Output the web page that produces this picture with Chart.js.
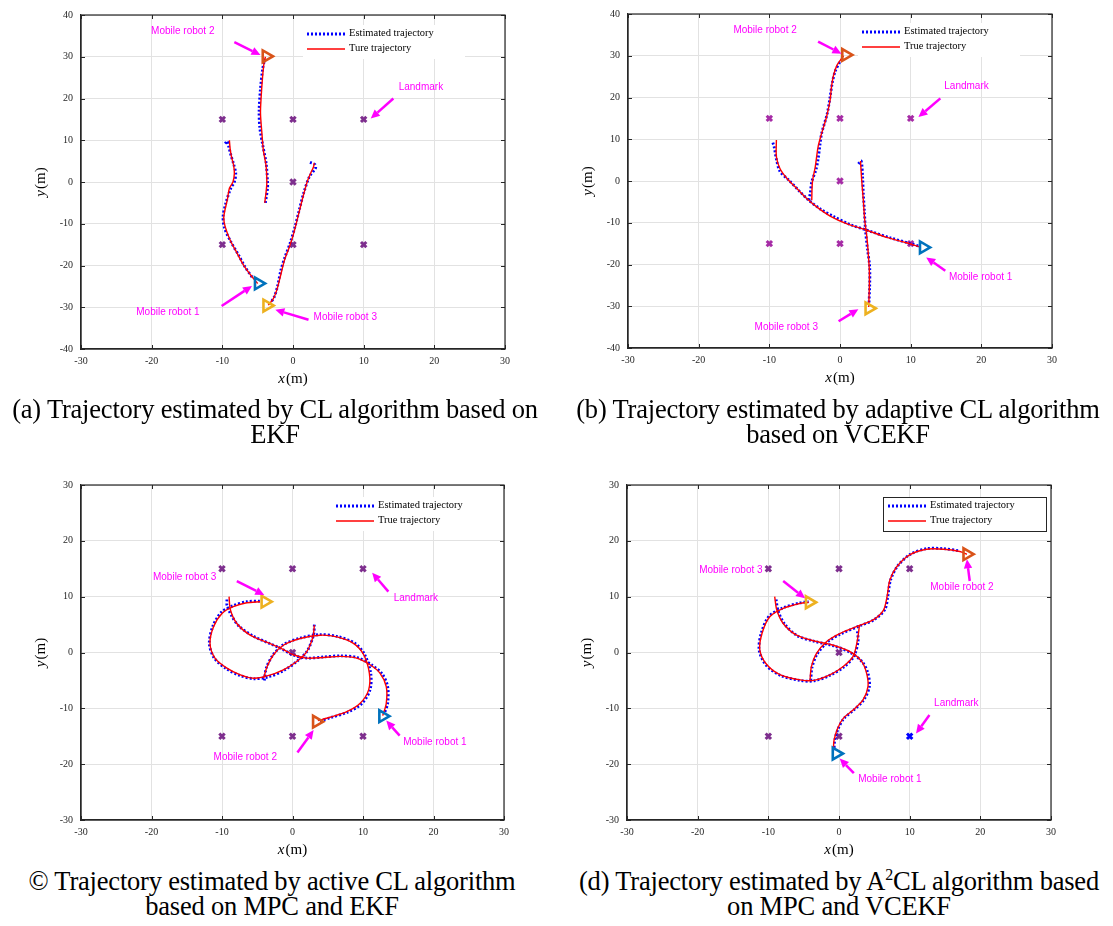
<!DOCTYPE html>
<html>
<head>
<meta charset="utf-8">
<script src="https://cdn.jsdelivr.net/npm/chart.js@4.4.1/dist/chart.umd.min.js"></script>
<style>
  html, body { margin: 0; padding: 0; background: #fff; }
  body { width: 1113px; height: 926px; position: relative; overflow: hidden; }
  .panel { position: absolute; }
  .cap {
    position: absolute; width: 580px; text-align: center; color: #000;
    font-family: "Liberation Serif", "Times New Roman", serif; font-size: 26.5px; line-height: 25px;
    letter-spacing: -0.2px;
  }
  .cap sup { font-size: 16px; line-height: 0; vertical-align: 10px; }
</style>
</head>
<body>
<div class="panel" style="left:0;top:0"><canvas id="pa" width="556" height="395"></canvas></div>
<div class="panel" style="left:556px;top:0"><canvas id="pb" width="557" height="395"></canvas></div>
<div class="panel" style="left:0;top:470px"><canvas id="pc" width="556" height="390"></canvas></div>
<div class="panel" style="left:556px;top:470px"><canvas id="pd" width="557" height="390"></canvas></div>

<div class="cap" style="left:-15px;top:397px">(a) Trajectory estimated by CL algorithm based on<br>EKF</div>
<div class="cap" style="left:548px;top:397px">(b) Trajectory estimated by adaptive CL algorithm<br>based on VCEKF</div>
<div class="cap" style="left:-18px;top:869px">© Trajectory estimated by active CL algorithm<br>based on MPC and EKF</div>
<div class="cap" style="left:549px;top:869px">(d) Trajectory estimated by A<sup>2</sup>CL algorithm based<br>on MPC and VCEKF</div>

<script>
// landmarks (same layout in every panel)
const landmarkX = [-10, 0, 10, 0, -10, 0, 10];
const landmarkY = [15, 15, 15, 0, -15, -15, -15];

// ---- (a) CL + EKF ----
const aR1True = [[-9,10],[-8.9,8],[-8.7,6],[-8.4,4],[-8.3,2],[-8.5,0],[-9,-1.5],[-9.3,-4.3],[-9.6,-6.5],[-9.8,-8.5],[-9.6,-10.7],[-8.9,-13.9],[-7.9,-17.1],[-7,-19.9],[-5.8,-22.7],[-5,-24.3]];
const aR1Est = [[-9.6,9.2],[-9.3,9.8],[-9.1,8.5],[-8.8,6.5],[-8.4,4.3],[-8.1,2],[-8.3,0],[-8.8,-1.5],[-9.5,-5],[-9.9,-8.3],[-9.7,-11],[-8.8,-14.3],[-7.7,-17.5],[-6.8,-20.3],[-5.7,-23]];
const aR2True = [[-4,-5],[-3.8,-2.3],[-3.7,0],[-3.8,3.7],[-4.2,7.7],[-4.4,11.7],[-4.6,16.5],[-4.5,20.5],[-4.3,25.3],[-4.1,28.5],[-3.9,30]];
const aR2Est = [[-3.9,-5],[-3.6,-1.5],[-3.6,0],[-3.8,4.5],[-4.3,9],[-4.7,13],[-4.8,17],[-4.6,22.5],[-4.3,27],[-4,29.5]];
const aR3True = [[3,4.6],[2.9,3.6],[2.6,2.5],[2,0],[1.3,-4.3],[0.7,-8.3],[0.1,-12.3],[-0.5,-15.5],[-1.2,-18.7],[-1.8,-22.7],[-2.3,-25.9],[-2.8,-28],[-3.5,-29.5]];
const aR3Est = [[2.4,4.7],[3.1,4.2],[3.2,3.4],[2.3,1.2],[1.5,-2.7],[0.9,-6.6],[0.3,-10.6],[-0.4,-14.6],[-1.1,-17.8],[-1.7,-21],[-2.2,-25],[-2.7,-27.7],[-3.4,-29.3]];
const aEnds = [[-4.9,-24.3],[-3.8,30.1],[-3.7,-29.6]];
const aNoteText = ["Mobile robot 2", "Landmark", "Mobile robot 1", "Mobile robot 3"];
const aNoteAt = [[-15.6,36],[18.1,22.6],[-17.7,-31.1],[7.4,-32.3]];
const aArrowFrom = [[-8.3,33.5],[14.2,20],[-10.1,-29.7],[2.2,-33]];
const aArrowTo = [[-4.6,30.4],[11,15.2],[-5.8,-24.9],[-2.5,-30.6]];

// ---- (b) adaptive CL + VCEKF ----
const bR1True = [[-9,9.8],[-9,5.8],[-8.5,3],[-7.5,0.6],[-6.1,-1.8],[-4.7,-4.2],[-3.3,-6.2],[-1.4,-8.4],[0.9,-10.2],[3.8,-11.8],[6.6,-13.5],[9.4,-14.8],[11.3,-15.8]];
const bR1Est = [[-9.5,9.2],[-9.3,8],[-9,5.2],[-8.5,2.3],[-7.3,0.3],[-5.7,-2.5],[-4.5,-4.5],[-2.8,-6.7],[-0.9,-8.5],[1.4,-10.4],[4.2,-12],[7.1,-13.6],[10,-15],[11.2,-15.6]];
const bR2True = [[-4,-4.6],[-3.9,-0.2],[-3.5,3.4],[-3.1,8.2],[-2.6,11.4],[-1.9,15.4],[-1.4,19.4],[-1.2,22.6],[-0.9,25.4],[-0.4,27.8],[0.5,30]];
const bR2Est = [[-4.4,-4.6],[-4.2,-2.8],[-4,-0.2],[-3.4,2.7],[-3.1,5.2],[-2.8,9.1],[-2.6,11.4],[-1.8,16.2],[-1.4,20.2],[-1.1,23.4],[-0.7,26.2],[0,28.6]];
const bR3True = [[2.9,4.8],[3.07,0.2],[3.3,-4.6],[3.5,-9.4],[3.8,-13.4],[4,-17.4],[4.15,-21.4],[4.15,-25.4],[4.06,-30.2]];
const bR3Est = [[2.6,4.1],[3,4.8],[3.2,1],[3.3,-3],[3.45,-7],[3.6,-11.7],[3.9,-16.5],[4.2,-20.5],[4.2,-25.3],[4.1,-29.3]];
const bEnds = [[11.8,-15.9],[0.8,30.2],[4.1,-30.5]];
const bNoteText = ["Mobile robot 2", "Landmark", "Mobile robot 1", "Mobile robot 3"];
const bNoteAt = [[-10.6,36.1],[17.9,22.6],[19.9,-23],[-7.6,-35]];
const bArrowFrom = [[-3.1,33.4],[14.2,19.8],[14.9,-21.5],[-0.2,-33.6]];
const bArrowTo = [[0.2,30.5],[11.1,15.3],[12.2,-18.3],[2.6,-30.7]];

// ---- (c) active CL, MPC + EKF ----
const cR1True = [[-9,10],[-8.8,7.6],[-7.9,5.2],[-6,3.1],[-3.6,1.8],[-1.7,0.8],[0.1,-0.4],[2,-1],[4.4,-0.9],[6.8,-0.7],[9.1,-1],[11,-2.2],[12.4,-3.7],[13.3,-6.1],[13.3,-9.1],[12.8,-11.3]];
const cR1Est = [[-9.3,9.5],[-9.3,8.5],[-8.6,6.5],[-7.5,4.6],[-5.5,2.9],[-3.4,1.7],[-1.6,0.7],[0.2,-0.5],[2.1,-1],[4.4,-0.8],[6.8,-0.6],[9.2,-0.9],[11.2,-2.2],[12.7,-3.8],[13.5,-6.1],[13.5,-9.1],[13,-11]];
const cR2True = [[-4.1,-4.6],[-3.6,-2.5],[-2.7,-0.4],[-1.3,1.3],[1.1,2.5],[3.9,3.1],[6.3,2.8],[8.7,1.6],[10.1,-0.4],[10.9,-3.7],[10.8,-6.7],[9.6,-9.1],[7.7,-10.6],[5.3,-11.6],[3.6,-12.2]];
const cR2Est = [[-4,-5],[-3.7,-2.7],[-2.8,-0.5],[-1.3,1.4],[1.1,2.6],[3.9,3.2],[6.3,2.9],[8.8,1.7],[10.2,-0.3],[11.1,-3.7],[11,-6.7],[9.8,-9.2],[7.8,-10.7],[5.3,-11.7],[3.8,-12.3]];
const cR3True = [[3.1,4.9],[2.9,2.8],[2,0.1],[0.6,-1.6],[-1.3,-3.1],[-3.6,-4.2],[-5.5,-4.6],[-7.4,-4],[-9.3,-2.8],[-11,-1],[-11.7,1.6],[-11.2,4.6],[-10,7],[-8.4,8.2],[-6.5,8.9],[-4.6,9.1]];
const cR3Est = [[3.1,5],[3,3.2],[2.1,0.3],[0.7,-1.5],[-1.2,-3.2],[-3.5,-4.4],[-5.5,-4.7],[-7.5,-4.1],[-9.4,-2.9],[-11.1,-1],[-11.8,1.6],[-11.3,4.7],[-10.1,7.2],[-8.4,8.4],[-6.5,9.1],[-4.6,9.2]];
const cEnds = [[12.8,-11.4],[3.4,-12.4],[-3.9,9.1]];
const cNoteText = ["Mobile robot 3", "Landmark", "Mobile robot 2", "Mobile robot 1"];
const cNoteAt = [[-15.3,13.4],[17.5,9.8],[-6.7,-18.8],[20.2,-16]];
const cArrowFrom = [[-7.9,12.8],[13.6,10.9],[0.7,-17.9],[15.2,-14.9]];
const cArrowTo = [[-4,10.3],[11.3,14.3],[3,-13.9],[13.3,-12.2]];

// ---- (d) A2CL, MPC + VCEKF ----
const dR1True = [[-9.1,10],[-8.8,7.6],[-7.9,5.2],[-6,3.1],[-3.6,2.1],[-0.8,1.3],[1.6,0.1],[3.2,-1.6],[3.9,-3.7],[4.1,-6.1],[3.4,-8.5],[2,-10.3],[0.6,-11.8],[-0.2,-13.6],[-0.7,-15.7],[-0.8,-17.5]];
const dR1Est = [[-8.9,9.5],[-8.6,7.4],[-7.7,5.1],[-5.9,3],[-3.5,2],[-0.8,1.2],[1.6,0],[3.3,-1.7],[4.1,-3.7],[4.3,-6.1],[3.5,-8.5],[2.1,-10.3],[0.7,-11.8],[-0.1,-13.6],[-0.6,-15.7],[-0.7,-17.5]];
const dR2True = [[-4.1,-4.9],[-3.9,-2.5],[-3.2,-0.2],[-1.7,2],[0.1,3.4],[3,4.9],[4.9,5.9],[6.3,7.6],[6.8,10],[7.2,13],[8.2,15.4],[10,17.5],[12.4,18.5],[14.8,18.5],[17.1,18.1],[18.1,17.6]];
const dR2Est = [[-4,-5],[-3.8,-2.6],[-3.1,-0.3],[-1.6,1.9],[0.2,3.3],[3,4.8],[5,5.9],[6.5,7.7],[6.9,10],[7.3,13],[8.3,15.5],[10.1,17.6],[12.4,18.6],[14.8,18.6],[17.1,18.2]];
const dR3True = [[2.9,4.9],[2.6,2.2],[2,-0.7],[0.6,-2.5],[-1.3,-4],[-3.6,-5],[-5.5,-4.9],[-8.3,-4],[-10.2,-2.2],[-11.2,0.4],[-10.9,3.4],[-9.8,6.4],[-7.9,7.9],[-5.5,8.8],[-4.3,9]];
const dR3Est = [[2.6,3.8],[2.7,2],[2.1,-0.7],[0.7,-2.6],[-1.3,-4.1],[-3.6,-5.1],[-5.5,-5],[-8.3,-4.1],[-10.3,-2.3],[-11.3,0.4],[-11,3.5],[-9.9,6.5],[-7.9,8],[-5.5,8.9],[-4.3,9.1]];
const dEnds = [[-0.4,-18.1],[18.1,17.6],[-4.2,9]];
const dNoteText = ["Mobile robot 3", "Mobile robot 2", "Landmark", "Mobile robot 1"];
const dNoteAt = [[-15.3,14.8],[17.4,11.6],[16.6,-9.1],[7.2,-22.7]];
const dArrowFrom = [[-7.9,12.8],[18.5,12.8],[12.8,-11.2],[2.1,-21.6]];
const dArrowTo = [[-4.8,9.7],[18.1,16.7],[10.9,-14.5],[0.1,-19]];

const robotColors = ['#0072BD', '#D95319', '#EDB120'];
const MAGENTA = '#ff00ff';
const INK = '#262626';

Chart.defaults.font.family = '"Liberation Serif", "Times New Roman", serif';
Chart.defaults.font.size = 10;
Chart.defaults.color = INK;

const toPts = arr => arr.map(p => ({ x: p[0], y: p[1] }));

function arrow(ctx, x0, y0, x1, y1) {
  const ang = Math.atan2(y1 - y0, x1 - x0);
  const head = 9, half = 4.2;
  const bx = x1 - head * Math.cos(ang), by = y1 - head * Math.sin(ang);
  ctx.beginPath();
  ctx.moveTo(x0, y0);
  ctx.lineTo(bx, by);
  ctx.stroke();
  ctx.beginPath();
  ctx.moveTo(x1, y1);
  ctx.lineTo(bx + half * Math.sin(ang), by - half * Math.cos(ang));
  ctx.lineTo(bx - half * Math.sin(ang), by + half * Math.cos(ang));
  ctx.closePath();
  ctx.fill();
}

function mathLabel(ctx, sym, cx, cy) {
  const f1 = 'italic 15px "Liberation Serif", serif';
  const f2 = '15px "Liberation Serif", serif';
  ctx.font = f1; const w1 = ctx.measureText(sym).width;
  ctx.font = f2; const w2 = ctx.measureText('(m)').width;
  const x0 = cx - (w1 + w2 + 1) / 2;
  ctx.textBaseline = 'middle'; ctx.textAlign = 'left';
  ctx.font = f1; ctx.fillText(sym, x0, cy);
  ctx.font = f2; ctx.fillText('(m)', x0 + w1 + 1, cy);
}

const figurePlugin = {
  id: 'figure',
  afterDatasetsDraw(chart, args, o) {
    const { ctx, chartArea: a, scales: { x, y } } = chart;
    ctx.save();
    // annotations
    ctx.strokeStyle = MAGENTA; ctx.fillStyle = MAGENTA; ctx.lineWidth = 2.5; ctx.lineCap = 'butt';
    o.arrowFrom.forEach((p, i) => {
      const q = o.arrowTo[i];
      arrow(ctx, x.getPixelForValue(p[0]), y.getPixelForValue(p[1]), x.getPixelForValue(q[0]), y.getPixelForValue(q[1]));
    });
    ctx.font = '10px "Liberation Sans", Arial, sans-serif';
    ctx.textAlign = 'center'; ctx.textBaseline = 'middle';
    o.noteText.forEach((t, i) => {
      ctx.fillText(t, x.getPixelForValue(o.noteAt[i][0]), y.getPixelForValue(o.noteAt[i][1]));
    });
    // legend
    const sx = a.left + o.legend.dx, r1 = a.top + o.legend.dy, r2 = r1 + 15;
    ctx.fillStyle = '#fff';
    ctx.fillRect(sx - 4, r1 - 9, 162, 34);
    if (o.legend.border) {
      ctx.strokeStyle = INK; ctx.lineWidth = 1;
      ctx.strokeRect(sx - 4.5, r1 - 8.5, 163, 34);
    }
    ctx.strokeStyle = '#0000ff'; ctx.lineWidth = 2.8; ctx.setLineDash([2, 2]);
    ctx.beginPath(); ctx.moveTo(sx, r1); ctx.lineTo(sx + 38, r1); ctx.stroke();
    ctx.setLineDash([]);
    ctx.strokeStyle = '#ff0000'; ctx.lineWidth = 1.4;
    ctx.beginPath(); ctx.moveTo(sx, r2); ctx.lineTo(sx + 38, r2); ctx.stroke();
    ctx.fillStyle = '#000'; ctx.textAlign = 'left';
    ctx.font = '10.5px "Liberation Serif", serif';
    ctx.fillText('Estimated trajectory', sx + 42, r1 - 1);
    ctx.fillText(o.trueLabel, sx + 42, r2 - 1);
    ctx.restore();
  },
  afterDraw(chart) {
    const { ctx, chartArea: a, scales: { x, y } } = chart;
    ctx.save();
    ctx.strokeStyle = INK; ctx.lineWidth = 1;
    ctx.beginPath();
    x.ticks.forEach(t => {
      const px = Math.round(x.getPixelForValue(t.value)) + 0.5;
      ctx.moveTo(px, a.bottom); ctx.lineTo(px, a.bottom - 4);
      ctx.moveTo(px, a.top); ctx.lineTo(px, a.top + 4);
    });
    y.ticks.forEach(t => {
      const py = Math.round(y.getPixelForValue(t.value)) + 0.5;
      ctx.moveTo(a.left, py); ctx.lineTo(a.left + 4, py);
      ctx.moveTo(a.right, py); ctx.lineTo(a.right - 4, py);
    });
    ctx.stroke();
    ctx.lineWidth = 1.2;
    ctx.strokeRect(a.left, a.top, a.right - a.left, a.bottom - a.top);
    ctx.fillStyle = '#000';
    mathLabel(ctx, 'x', (a.left + a.right) / 2, a.bottom + 30);
    ctx.translate(a.left - 40, (a.top + a.bottom) / 2);
    ctx.rotate(-Math.PI / 2);
    mathLabel(ctx, 'y', 0, 0);
    ctx.restore();
  }
};

function makePanel(id, p) {
  const datasets = [];
  p.truth.forEach((tr, i) => {
    datasets.push({ label: 'True ' + (i + 1), data: toPts(tr), showLine: true, borderColor: '#ff0000',
      borderWidth: 1.4, pointRadius: 0, tension: 0.3, order: 2 });
    datasets.push({ label: 'Estimated ' + (i + 1), data: toPts(p.est[i]), showLine: true, borderColor: '#0000ff',
      borderWidth: 2.8, borderDash: [2, 2], pointRadius: 0, tension: 0.3, order: 3 });
  });
  datasets.push({ label: 'Landmark', data: landmarkX.map((v, i) => ({ x: v, y: landmarkY[i] })),
    pointStyle: 'crossRot', pointRadius: 3.8, pointBorderWidth: 3, pointBorderColor: p.landmarkColors,
    showLine: false, order: 4 });
  datasets.push({ label: 'Robots', data: toPts(p.ends), pointStyle: 'triangle', rotation: 90,
    pointRadius: 6.8, pointBorderWidth: 2.6, pointBorderColor: robotColors,
    pointBackgroundColor: 'rgba(255,255,255,0)', showLine: false, order: 1 });

  const axis = (min, max) => ({
    type: 'linear', min, max,
    ticks: { stepSize: 10, color: INK, font: { size: 10 } },
    grid: { color: '#e2e2e2', drawTicks: false, lineWidth: 1 },
    border: { color: INK, width: 1.2 }
  });
  const xs = axis(-30, 30);
  xs.ticks.padding = 6;
  xs.afterFit = s => { s.height = p.xh; };
  const ys = axis(p.ymin, p.ymax);
  ys.ticks.padding = 8;
  ys.afterFit = s => { s.width = p.yw; };

  new Chart(document.getElementById(id), {
    type: 'scatter',
    data: { datasets },
    options: {
      responsive: false,
      animation: false,
      layout: { padding: { left: 0, top: p.top, right: p.right, bottom: 0 } },
      scales: { x: xs, y: ys },
      plugins: {
        legend: { display: false },
        tooltip: { enabled: false },
        figure: {
          noteText: p.noteText, noteAt: p.noteAt, arrowFrom: p.arrowFrom, arrowTo: p.arrowTo,
          legend: p.legend, trueLabel: p.trueLabel
        }
      }
    },
    plugins: [figurePlugin]
  });
}

const purple = '#7E2F8E';
makePanel('pa', {
  truth: [aR1True, aR2True, aR3True], est: [aR1Est, aR2Est, aR3Est], ends: aEnds,
  noteText: aNoteText, noteAt: aNoteAt, arrowFrom: aArrowFrom, arrowTo: aArrowTo,
  landmarkColors: purple, trueLabel: 'Ture trajectory',
  ymin: -40, ymax: 40, yw: 81, xh: 46, top: 15, right: 51,
  legend: { dx: 226, dy: 19, border: false }
});
makePanel('pb', {
  truth: [bR1True, bR2True, bR3True], est: [bR1Est, bR2Est, bR3Est], ends: bEnds,
  noteText: bNoteText, noteAt: bNoteAt, arrowFrom: bArrowFrom, arrowTo: bArrowTo,
  landmarkColors: '#A62CA6', trueLabel: 'True trajectory',
  ymin: -40, ymax: 40, yw: 72, xh: 47, top: 14, right: 61,
  legend: { dx: 234, dy: 18, border: false }
});
makePanel('pc', {
  truth: [cR1True, cR2True, cR3True], est: [cR1Est, cR2Est, cR3Est], ends: cEnds,
  noteText: cNoteText, noteAt: cNoteAt, arrowFrom: cArrowFrom, arrowTo: cArrowTo,
  landmarkColors: purple, trueLabel: 'True trajectory',
  ymin: -30, ymax: 30, yw: 81, xh: 40, top: 15, right: 52,
  legend: { dx: 255, dy: 21, border: false }
});
makePanel('pd', {
  truth: [dR1True, dR2True, dR3True], est: [dR1Est, dR2Est, dR3Est], ends: dEnds,
  noteText: dNoteText, noteAt: dNoteAt, arrowFrom: dArrowFrom, arrowTo: dArrowTo,
  landmarkColors: [purple, purple, purple, purple, purple, purple, '#0000ff'], trueLabel: 'True trajectory',
  ymin: -30, ymax: 30, yw: 71, xh: 40, top: 15, right: 62,
  legend: { dx: 261, dy: 21, border: true }
});
</script>
</body>
</html>
